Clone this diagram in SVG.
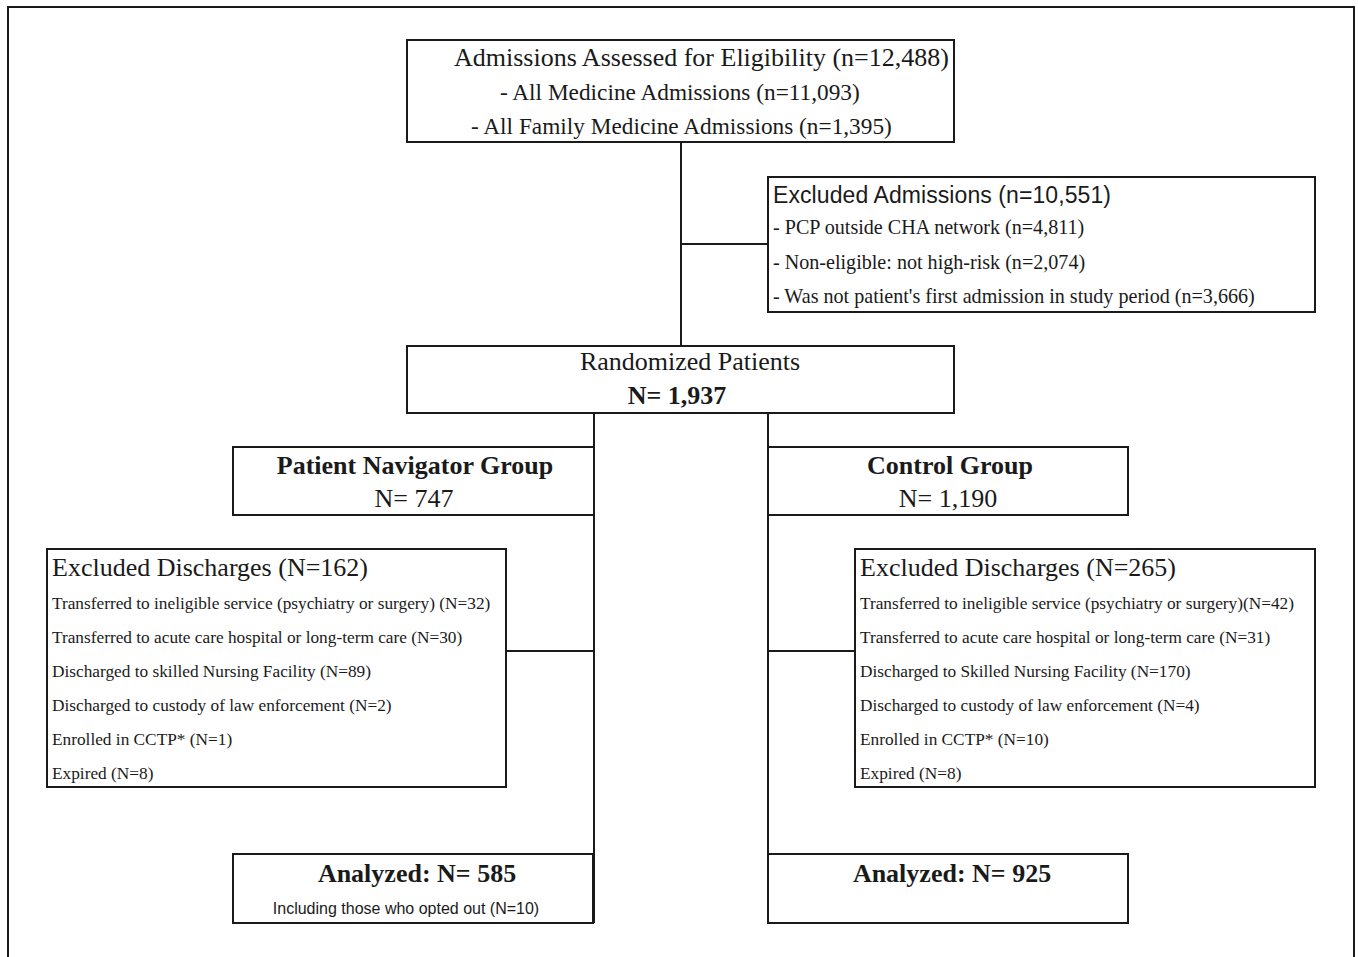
<svg xmlns="http://www.w3.org/2000/svg" width="1358" height="957" viewBox="0 0 1358 957">
<style>
.box{fill:#fff;stroke:#1a1a1a;stroke-width:2}
.ln{stroke:#1a1a1a;stroke-width:2;fill:none}
.s{font-family:"Liberation Serif","Times New Roman",serif;fill:#1a1a1a}
.b{font-weight:bold}
.ss{font-family:"Liberation Sans",Arial,sans-serif;fill:#1a1a1a}
.t{font-size:26px}
.m{font-size:17.3px}
</style>
<rect width="1358" height="957" fill="#fff"/>
<path class="ln" d="M8,960 V7 H1354 V960"/>
<g id="connectors">
<path class="ln" d="M681,142 V346 M681,244 H768"/>
<path class="ln" d="M594,413 V923 M506,651 H594"/>
<path class="ln" d="M768,413 V923 M768,651 H855"/>
</g>
<g id="assessed">
<rect class="box" x="407" y="40" width="547" height="102"/>
<text class="s t" x="454" y="66">Admissions Assessed for Eligibility (n=12,488)</text>
<text class="s" x="500" y="100" font-size="23.3">- All Medicine Admissions (n=11,093)</text>
<text class="s" x="471" y="134" font-size="23.3">- All Family Medicine Admissions (n=1,395)</text>
</g>
<g id="excluded-admissions">
<rect class="box" x="768" y="177" width="547" height="135"/>
<text class="ss" x="773" y="203" font-size="23" textLength="338">Excluded Admissions (n=10,551)</text>
<text class="s" x="773" y="234" font-size="20.1">- PCP outside CHA network (n=4,811)</text>
<text class="s" x="773" y="269" font-size="20.1">- Non-eligible: not high-risk (n=2,074)</text>
<text class="s" x="773" y="303" font-size="20.1">- Was not patient's first admission in study period (n=3,666)</text>
</g>
<g id="randomized">
<rect class="box" x="407" y="346" width="547" height="67"/>
<text class="s t" x="690" y="370" text-anchor="middle">Randomized Patients</text>
<text class="s b t" x="677" y="404" text-anchor="middle">N= 1,937</text>
</g>
<g id="navigator-group">
<rect class="box" x="233" y="447" width="361" height="68"/>
<text class="s b t" x="415" y="474" text-anchor="middle">Patient Navigator Group</text>
<text class="s t" x="414" y="507" text-anchor="middle">N= 747</text>
</g>
<g id="control-group">
<rect class="box" x="768" y="447" width="360" height="68"/>
<text class="s b t" x="950" y="474" text-anchor="middle">Control Group</text>
<text class="s t" x="948" y="507" text-anchor="middle">N= 1,190</text>
</g>
<g id="excluded-navigator">
<rect class="box" x="47" y="549" width="459" height="238"/>
<text class="s t" x="52" y="576">Excluded Discharges (N=162)</text>
<text class="s m" x="52" y="609">Transferred to ineligible service (psychiatry or surgery) (N=32)</text>
<text class="s m" x="52" y="643">Transferred to acute care hospital or long-term care (N=30)</text>
<text class="s m" x="52" y="677">Discharged to skilled Nursing Facility (N=89)</text>
<text class="s m" x="52" y="711">Discharged to custody of law enforcement (N=2)</text>
<text class="s m" x="52" y="745">Enrolled in CCTP* (N=1)</text>
<text class="s m" x="52" y="779">Expired (N=8)</text>
</g>
<g id="excluded-control">
<rect class="box" x="855" y="549" width="460" height="238"/>
<text class="s t" x="860" y="576">Excluded Discharges (N=265)</text>
<text class="s m" x="860" y="609">Transferred to ineligible service (psychiatry or surgery)(N=42)</text>
<text class="s m" x="860" y="643">Transferred to acute care hospital or long-term care (N=31)</text>
<text class="s m" x="860" y="677">Discharged to Skilled Nursing Facility (N=170)</text>
<text class="s m" x="860" y="711">Discharged to custody of law enforcement (N=4)</text>
<text class="s m" x="860" y="745">Enrolled in CCTP* (N=10)</text>
<text class="s m" x="860" y="779">Expired (N=8)</text>
</g>
<g id="analyzed-navigator">
<rect class="box" x="233" y="854" width="360" height="69"/>
<text class="s b t" x="417" y="882" text-anchor="middle">Analyzed: N= 585</text>
<text class="ss" x="406" y="914" font-size="16" text-anchor="middle">Including those who opted out (N=10)</text>
</g>
<g id="analyzed-control">
<rect class="box" x="768" y="854" width="360" height="69"/>
<text class="s b t" x="952" y="882" text-anchor="middle">Analyzed: N= 925</text>
</g>
</svg>
